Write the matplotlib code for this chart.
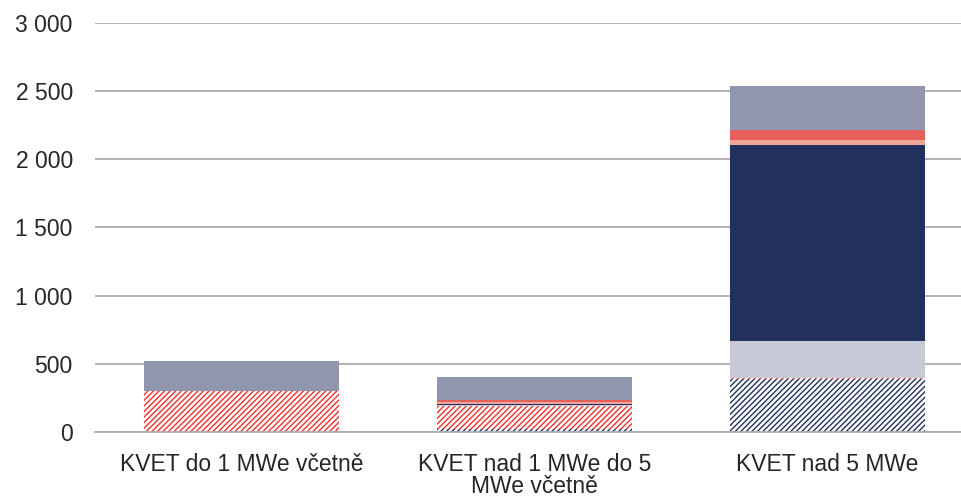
import numpy as np
import matplotlib
matplotlib.use("Agg")
import matplotlib.pyplot as plt

plt.rcParams['font.family'] = ['Liberation Sans', 'DejaVu Sans']
plt.rcParams['hatch.linewidth'] = 1.0

# ---------- data ----------
categories = ["KVET do 1 MWe včetně", "KVET nad 1 MWe do 5\nMWe včetně", "KVET nad 5 MWe"]
navy_hatch = [0, 20, 391]
red_hatch = [300, 170, 5]
lavender = [0, 8, 268]
navy = [0, 10, 1441]
salmon = [0, 12, 32]
red = [0, 18, 80]
gray = [218, 165, 317]
yticks = [0, 500, 1000, 1500, 2000, 2500, 3000]
ytick_labels = ["0", "500", "1 000", "1 500", "2 000", "2 500", "3 000"]
# -------------------------------------------------

series = [
    (navy_hatch, dict(color="white", edgecolor="#22305E", hatch="//////")),
    (red_hatch, dict(color="white", edgecolor="#F0302A", hatch="//////")),
    (lavender, dict(color="#C7C9D6")),
    (navy, dict(color="#22305E")),
    (salmon, dict(color="#F0A49C")),
    (red, dict(color="#E5605A")),
    (gray, dict(color="#9196AE")),
]

fig = plt.figure(figsize=(9.61, 4.97), dpi=100)
ax = fig.add_axes([0.0989, 0.1308, 0.9147, 0.8235])

x = np.arange(len(categories))
bottom = np.zeros(len(categories))
for vals, style in series:
    vals = np.array(vals, dtype=float)
    ax.bar(x, vals, width=0.666, bottom=bottom, linewidth=0, **style)
    bottom += vals

ax.set_xlim(-0.5, 2.5)
ax.set_ylim(0, 3000)
ax.set_yticks(yticks)
ax.set_yticklabels(ytick_labels)
ax.set_xticks(x)
ax.set_xticklabels(categories, linespacing=0.98)
ax.yaxis.grid(True, color="#ABABAB", linewidth=1.3)
ax.set_axisbelow(True)
for s in ["top", "right", "left"]:
    ax.spines[s].set_visible(False)
ax.spines["bottom"].set_color("#ABABAB")
ax.spines["bottom"].set_linewidth(1.3)
ax.tick_params(axis="both", length=0, labelsize=16.5, colors="#262626")
ax.tick_params(axis="y", pad=16)
ax.tick_params(axis="x", pad=15)

fig.savefig("out.png", dpi=100)
